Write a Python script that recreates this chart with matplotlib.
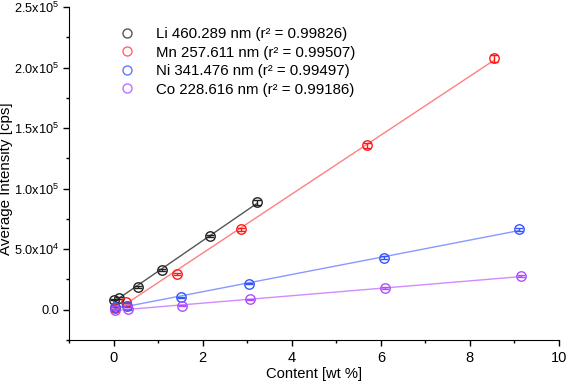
import numpy as np
import matplotlib
matplotlib.use('Agg')
import matplotlib.pyplot as plt
from matplotlib.ticker import FuncFormatter, MultipleLocator

plt.rcParams['font.family'] = ['Liberation Sans', 'DejaVu Sans']
plt.rcParams['mathtext.fontset'] = 'custom'
plt.rcParams['mathtext.rm'] = 'Liberation Sans'

# data
li_x = [0.0, 0.12, 0.55, 1.08, 2.16, 3.22]
li_y = [8300, 9800, 18600, 32600, 60900, 88600]
li_err = [600, 600, 700, 800, 1000, 2200]

mn_x = [0.03, 0.29, 1.43, 2.85, 5.70, 8.54]
mn_y = [1400, 6100, 29800, 66400, 135800, 207500]
mn_err = [500, 600, 900, 1200, 2000, 2800]

ni_x = [0.03, 0.30, 1.52, 3.04, 6.08, 9.11]
ni_y = [2500, 2700, 10400, 21600, 43100, 66300]
ni_err = [400, 400, 500, 700, 1000, 1200]

co_x = [0.03, 0.32, 1.54, 3.06, 6.10, 9.15]
co_y = [0, 300, 3300, 8700, 17800, 27600]
co_err = [300, 300, 400, 500, 700, 900]

labels = ['Li 460.289 nm (r\u00b2 = 0.99826)',
          'Mn 257.611 nm (r\u00b2 = 0.99507)',
          'Ni 341.476 nm (r\u00b2 = 0.99497)',
          'Co 228.616 nm (r\u00b2 = 0.99186)']
mark_colors = ['#222222', '#ff1a1a', '#3355ff', '#b04dff']
line_colors = ['#555555', '#ff8080', '#8899ff', '#d08cff']
leg_colors = ['#555555', '#ff6666', '#6677ff', '#c070ff']

series = [(li_x, li_y, li_err), (mn_x, mn_y, mn_err),
          (ni_x, ni_y, ni_err), (co_x, co_y, co_err)]

fig = plt.figure(figsize=(5.67, 3.86), dpi=100)
ax = fig.add_axes([0.1217, 0.1192, 0.8642, 0.8627])

handles = []
for (x, y, e), mc, lc, gc, lab in zip(series, mark_colors, line_colors, leg_colors, labels):
    x = np.array(x)
    y = np.array(y)
    k, b = np.polyfit(x, y, 1)
    xx = np.array([x.min(), x.max()])
    ax.plot(xx, k * xx + b, color=lc, lw=1.0, zorder=1)
    ax.errorbar(x, y, yerr=e, fmt='o', ms=6.8, mfc='none', mec=mc, mew=1.0,
                ecolor=mc, elinewidth=1.0, capsize=3, capthick=1.0, zorder=3)
    h, = ax.plot([], [], 'o', ms=6.5, mfc='none', mec=gc, mew=1.0, label=lab)
    handles.append(h)

ax.set_xlim(-1, 10)
ax.set_ylim(-25000, 250000)
ax.xaxis.set_major_locator(MultipleLocator(2))
ax.xaxis.set_minor_locator(MultipleLocator(1))
ax.yaxis.set_major_locator(MultipleLocator(50000))
ax.yaxis.set_minor_locator(MultipleLocator(25000))


def yfmt(v, pos):
    if abs(v) < 1:
        return '0.0'
    exp = int(np.floor(np.log10(abs(v))))
    return r'$\mathregular{%.1fx10^{%d}}$' % (v / 10 ** exp, exp)


ax.yaxis.set_major_formatter(FuncFormatter(yfmt))
for s in ['top', 'right']:
    ax.spines[s].set_visible(False)
ax.tick_params(which='major', direction='out', length=4, width=1)
ax.tick_params(which='minor', direction='out', length=2.5, width=1)
ax.tick_params(axis='x', labelsize=10.5, pad=4)
ax.tick_params(axis='y', labelsize=9.2, pad=3)

ax.set_xlabel('Content [wt %]', fontsize=10.6)
ax.set_ylabel('Average Intensity [cps]', fontsize=10.9)
ax.yaxis.set_label_coords(-0.114, 0.485)
ax.xaxis.set_label_coords(0.5, -0.082)

ax.legend(handles=handles, loc='upper left', bbox_to_anchor=(0.088, 0.962),
          frameon=False, fontsize=10.8, handletextpad=1.4, labelspacing=0.3,
          handlelength=1.0, borderpad=0)

fig.savefig('out.png', dpi=100)
